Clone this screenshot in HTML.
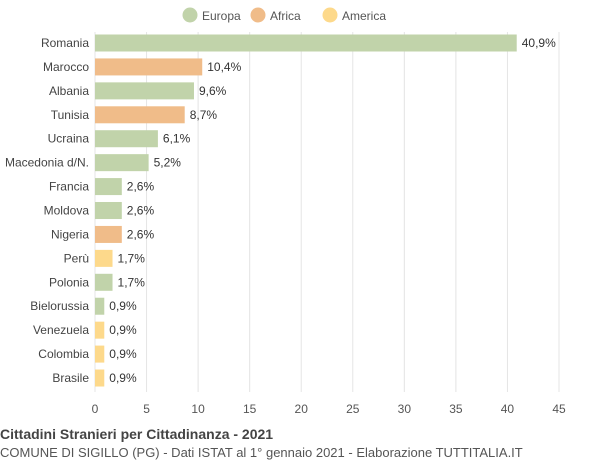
<!DOCTYPE html>
<html><head><meta charset="utf-8"><style>
body{margin:0;background:#fff;font-family:"Liberation Sans",sans-serif}
</style></head><body>
<svg width="600" height="460" xmlns="http://www.w3.org/2000/svg" font-family="Liberation Sans, sans-serif">
<g id="legend"></g>
<g id="grid"></g>
<g id="bars"></g>
<text x="0" y="439" font-size="14" font-weight="bold" fill="#444">Cittadini Stranieri per Cittadinanza - 2021</text>
<text x="0" y="457" font-size="13" fill="#555">COMUNE DI SIGILLO (PG) - Dati ISTAT al 1° gennaio 2021 - Elaborazione TUTTITALIA.IT</text>
</svg>
<script>
const categories=["Romania","Marocco","Albania","Tunisia","Ucraina","Macedonia d/N.","Francia","Moldova","Nigeria","Perù","Polonia","Bielorussia","Venezuela","Colombia","Brasile"];
const values=[40.9,10.4,9.6,8.7,6.1,5.2,2.6,2.6,2.6,1.7,1.7,0.9,0.9,0.9,0.9];
const groups=["Europa","Africa","Europa","Africa","Europa","Europa","Europa","Europa","Africa","America","Europa","Europa","America","America","America"];
const legendNames=["Europa","Africa","America"];
const ticks=[0,5,10,15,20,25,30,35,40,45];
const colors={Europa:"#c1d3aa",Africa:"#f0bc89",America:"#fdd98b"};
const NS="http://www.w3.org/2000/svg";
const x0=95,x1=559,xmax=45,yTop=43,step=23.93,bh=17;
const xs=v=>x0+v/xmax*(x1-x0);
const ys=i=>yTop+i*step;
function mk(t,a,p){const e=document.createElementNS(NS,t);for(const k in a)e.setAttribute(k,a[k]);p.appendChild(e);return e;}
const grid=document.getElementById('grid');
ticks.forEach(t=>{
 const l=mk('line',{x1:xs(t),x2:xs(t),y1:32,y2:392,stroke:'#e4e4e4','stroke-width':1},grid);
 
 
 const tx=mk('text',{x:xs(t),y:413,'font-size':12,fill:'#555','text-anchor':'middle'},grid);
 tx.textContent=t;
 
 
});
const bars=document.getElementById('bars');
categories.forEach((c,i)=>{
 const y=ys(i);
 const r=mk('rect',{x:x0,y:y-bh/2,width:xs(values[i])-x0,height:bh,fill:colors[groups[i]]},bars);
 
 
 const lb=mk('text',{x:89,y:y+4,'font-size':12,fill:'#444','text-anchor':'end'},bars);
 lb.textContent=c;
 
 
 const vl=mk('text',{x:xs(values[i])+5,y:y+4,'font-size':12,fill:'#333'},bars);
 vl.textContent=values[i].toFixed(1).replace('.',',')+'%';
 
 
});
const lg=document.getElementById('legend');
const lx=[190,258,330];
legendNames.forEach((n,i)=>{
 const c=mk('circle',{cx:lx[i],cy:15,r:7.5,fill:colors[n]},lg);
 
 
 const t=mk('text',{x:lx[i]+12,y:20,'font-size':12,fill:'#555'},lg);
 t.textContent=n;
 
 
});
</script>
</body></html>
